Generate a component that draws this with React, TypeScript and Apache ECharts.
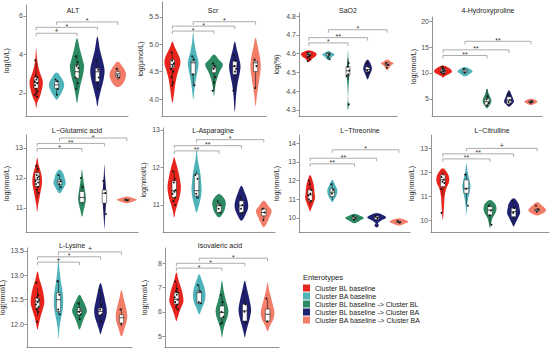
import React, { useEffect, useRef } from "react";
import * as echarts from "echarts";

// ---------- categories / legend ----------
const GROUPS = [
  "Cluster BL baseline",
  "Cluster BA baseline",
  "Cluster BL baseline -> Cluster BL",
  "Cluster BL baseline -> Cluster BA",
  "Cluster BA baseline -> Cluster BA",
];
const LEGEND_TITLE = "Enterotypes";
const COLORS = ["#E8241C", "#4FB4BA", "#2B8A61", "#1F2170", "#F27E6A"];

// ---------- panel titles / axes ----------
const TITLES = [
  "ALT", "Scr", "SaO2", "4-Hydroxyproline",
  "L\u2212Glutamic acid", "L-Asparagine", "L\u2212Threonine", "L\u2212Citrulline",
  "L-Lysine", "Isovaleric acid",
];
const UNITS = [
  "log(U/L)", "log(\u03bcmol/L)", "log(%)", "log(nmol/L)",
  "log(nmol/L)", "log(nmol/L)", "log(nmol/L)", "log(nmol/L)",
  "log(nmol/L)", "log(nmol/L)",
];
const Y_TICKS = [
  [2, 4, 6], [4.0, 4.5, 5.0, 5.5], [4.3, 4.4, 4.5, 4.6, 4.7, 4.8], [5, 10, 15, 20],
  [11, 12, 13], [11, 12, 13], [10, 11, 12, 13, 14], [10, 11, 12, 13],
  [12.0, 12.5, 13.0, 13.5], [5, 6, 7, 8],
];
const Y_DECIMALS = [0, 1, 1, 0, 0, 0, 0, 0, 1, 0];
const Y_RANGES = [
  [0.8, 6.57], [3.69, 5.77], [4.268, 4.816], [1.73, 20.77],
  [10.2, 13.43], [10.28, 13.05], [9.25, 14.43], [9.5, 13.56],
  [11.53, 13.56], [4.55, 8.63],
];

// ---------- violin density profiles: [value, relative width] ----------
const altViolin = [
  [[1.2, 0], [1.5, 0.1], [1.72, 0.3], [2.16, 0.55], [2.59, 0.65], [3.0, 0.4], [3.37, 0.2], [3.8, 0.08], [4.32, 0]],
  [[1.64, 0], [1.8, 0.25], [2.07, 0.55], [2.42, 0.75], [2.76, 0.5], [3.06, 0]],
  [[1.46, 0], [1.81, 0.12], [2.33, 0.3], [2.85, 0.55], [3.37, 0.7], [3.63, 0.6], [4.23, 0.3], [4.84, 0]],
  [[1.29, 0], [1.64, 0.12], [2.16, 0.35], [2.68, 0.6], [3.19, 0.7], [3.71, 0.5], [4.23, 0.25], [4.93, 0]],
  [[2.29, 0], [2.42, 0.4], [2.68, 0.7], [3.02, 0.8], [3.37, 0.45], [3.63, 0]],
];
const scrViolin = [
  [[3.93, 0], [3.99, 0.08], [4.17, 0.2], [4.35, 0.35], [4.5, 0.55], [4.63, 0.75], [4.72, 0.75], [4.84, 0.5], [4.96, 0.2], [5.05, 0]],
  [[3.99, 0], [4.11, 0.08], [4.29, 0.2], [4.45, 0.35], [4.6, 0.5], [4.69, 0.5], [4.84, 0.3], [5.02, 0.12], [5.21, 0]],
  [[4.05, 0], [4.23, 0.12], [4.38, 0.3], [4.5, 0.55], [4.63, 0.85], [4.72, 0.45], [4.81, 0]],
  [[3.77, 0], [4.05, 0.12], [4.26, 0.25], [4.45, 0.45], [4.6, 0.55], [4.75, 0.4], [4.9, 0.2], [5.05, 0]],
  [[3.87, 0], [4.05, 0.12], [4.23, 0.25], [4.41, 0.4], [4.6, 0.5], [4.78, 0.4], [4.96, 0.2], [5.12, 0]],
];
const sao2Violin = [
  [[4.556, 0], [4.573, 0.35], [4.586, 0.7], [4.6, 0.8], [4.609, 0.55], [4.618, 0]],
  [[4.565, 0], [4.582, 0.35], [4.595, 0.65], [4.6, 0.5], [4.614, 0]],
  [[4.3, 0], [4.33, 0.08], [4.35, 0.02], [4.4, 0.03], [4.46, 0.1], [4.5, 0.15], [4.53, 0.12], [4.573, 0.05], [4.618, 0]],
  [[4.462, 0], [4.485, 0.2], [4.503, 0.35], [4.52, 0.45], [4.547, 0.3], [4.568, 0]],
  [[4.512, 0], [4.535, 0.35], [4.547, 0.65], [4.556, 0.4], [4.568, 0]],
];
const hypViolin = [
  [[9.11, 0], [9.36, 0.15], [9.75, 0.5], [10.19, 0.8], [10.64, 0.75], [11.14, 0.4], [11.46, 0]],
  [[9.36, 0], [9.87, 0.45], [10.32, 0.7], [10.83, 0.4], [11.14, 0]],
  [[3.2, 0], [3.83, 0.25], [4.47, 0.4], [5.1, 0.35], [6.06, 0.15], [7.01, 0]],
  [[3.51, 0], [4.02, 0.3], [4.47, 0.45], [4.91, 0.4], [5.74, 0.25], [6.69, 0]],
  [[3.83, 0], [4.15, 0.4], [4.47, 0.6], [4.79, 0.4], [5.1, 0]],
];
const gluViolin = [
  [[10.88, 0], [11.1, 0.08], [11.33, 0.2], [11.55, 0.3], [11.78, 0.42], [12.0, 0.42], [12.22, 0.3], [12.45, 0.12], [12.67, 0]],
  [[11.49, 0], [11.66, 0.35], [11.83, 0.55], [12.0, 0.45], [12.17, 0.3], [12.28, 0]],
  [[10.71, 0], [10.93, 0.15], [11.16, 0.3], [11.33, 0.35], [11.49, 0.3], [11.78, 0.18], [12.06, 0.08], [12.28, 0]],
  [[10.31, 0], [10.6, 0.05], [10.88, 0.1], [11.21, 0.15], [11.49, 0.15], [11.78, 0.12], [12.11, 0.05], [12.45, 0]],
  [[11.16, 0], [11.21, 0.5], [11.27, 0.9], [11.33, 0.5], [11.38, 0]],
];
const asnViolin = [
  [[10.67, 0], [10.84, 0.12], [11.07, 0.35], [11.24, 0.5], [11.47, 0.6], [11.69, 0.5], [11.91, 0.35], [12.13, 0.15], [12.27, 0]],
  [[10.8, 0], [10.98, 0.2], [11.16, 0.35], [11.38, 0.45], [11.64, 0.4], [11.91, 0.3], [12.22, 0.1], [12.49, 0]],
  [[10.67, 0], [10.8, 0.4], [10.93, 0.55], [11.07, 0.6], [11.2, 0.4], [11.29, 0]],
  [[10.58, 0], [10.76, 0.4], [10.93, 0.6], [11.11, 0.55], [11.33, 0.3], [11.51, 0]],
  [[10.4, 0], [10.53, 0.3], [10.67, 0.5], [10.84, 0.7], [10.98, 0.4], [11.11, 0]],
];
const thrViolin = [
  [[10.35, 0], [10.52, 0.12], [10.79, 0.3], [11.06, 0.45], [11.32, 0.4], [11.68, 0.35], [12.04, 0.2], [12.3, 0]],
  [[10.84, 0], [10.97, 0.15], [11.24, 0.4], [11.5, 0.45], [11.77, 0.25], [12.04, 0]],
  [[9.72, 0], [9.87, 0.5], [10.0, 0.85], [10.12, 0.5], [10.22, 0]],
  [[9.49, 0], [9.6, 0.2], [9.72, 0.1], [9.88, 0.45], [10.03, 0.85], [10.17, 0.5], [10.26, 0]],
  [[9.6, 0], [9.67, 0.4], [9.78, 0.85], [9.9, 0.55], [9.99, 0]],
];
const citViolin = [
  [[10.0, 0], [10.21, 0.05], [10.56, 0.1], [10.98, 0.15], [11.33, 0.3], [11.54, 0.5], [11.75, 0.55], [11.96, 0.4], [12.17, 0]],
  [[10.21, 0], [10.49, 0.05], [10.77, 0.1], [11.12, 0.25], [11.4, 0.35], [11.68, 0.25], [12.03, 0.1], [12.38, 0]],
  [[9.66, 0], [9.87, 0.1], [10.07, 0.2], [10.28, 0.45], [10.49, 0.55], [10.7, 0.4], [10.84, 0]],
  [[9.73, 0], [9.87, 0.15], [10.07, 0.35], [10.28, 0.55], [10.49, 0.5], [10.7, 0.4], [10.91, 0]],
  [[10.19, 0], [10.28, 0.5], [10.42, 0.75], [10.61, 0.4], [10.74, 0]],
];
const lysViolin = [
  [[11.89, 0], [12.02, 0.15], [12.16, 0.3], [12.3, 0.5], [12.43, 0.65], [12.57, 0.6], [12.74, 0.45], [12.91, 0.2], [13.08, 0]],
  [[11.69, 0], [11.82, 0.05], [12.02, 0.15], [12.23, 0.35], [12.43, 0.45], [12.64, 0.4], [12.84, 0.25], [13.11, 0.1], [13.35, 0]],
  [[11.89, 0], [12.02, 0.25], [12.16, 0.5], [12.26, 0.7], [12.36, 0.6], [12.5, 0.3], [12.6, 0]],
  [[11.79, 0], [11.89, 0.15], [12.02, 0.35], [12.16, 0.55], [12.3, 0.6], [12.47, 0.45], [12.67, 0.25], [12.84, 0]],
  [[11.75, 0], [11.92, 0.3], [12.06, 0.5], [12.19, 0.55], [12.36, 0.4], [12.53, 0.2], [12.7, 0]],
];
const isoViolin = [
  [[5.62, 0], [5.83, 0.15], [6.11, 0.35], [6.38, 0.6], [6.59, 0.6], [6.93, 0.45], [7.28, 0.2], [7.62, 0]],
  [[5.9, 0], [6.11, 0.2], [6.38, 0.45], [6.66, 0.55], [7.0, 0.45], [7.28, 0.25], [7.55, 0]],
  [[4.94, 0], [5.21, 0.1], [5.49, 0.25], [5.83, 0.5], [6.11, 0.55], [6.45, 0.35], [6.86, 0.15], [7.28, 0]],
  [[4.94, 0], [5.14, 0.1], [5.42, 0.25], [5.76, 0.45], [6.11, 0.55], [6.52, 0.4], [6.93, 0.2], [7.28, 0]],
  [[5.21, 0], [5.42, 0.2], [5.69, 0.5], [5.97, 0.6], [6.31, 0.45], [6.59, 0.3], [6.86, 0.15], [7.21, 0]],
];

// ---------- box stats: [min, q1, median, q3, max] ----------
const altBox = [[1.8, 2.24, 2.54, 2.81, 3.7], [1.9, 2.24, 2.42, 2.59, 2.68], [2.24, 2.76, 3.1, 3.45, 3.97], [2.24, 2.59, 3.1, 3.28, 3.7], [2.68, 2.81, 2.99, 3.1, 3.28]];
const scrBox = [[4.26, 4.57, 4.63, 4.72, 4.87], [4.23, 4.45, 4.66, 4.69, 4.78], [4.14, 4.48, 4.57, 4.6, 4.66], [4.14, 4.45, 4.6, 4.69, 4.81], [4.2, 4.5, 4.66, 4.69, 4.72]];
const sao2Box = [[4.579, 4.588, 4.596, 4.604, 4.609], [4.58, 4.591, 4.6, 4.604, 4.607], [4.46, 4.485, 4.508, 4.53, 4.573], [4.475, 4.503, 4.515, 4.53, 4.556], [4.534, 4.537, 4.541, 4.549, 4.552]];
const hypBox = [[9.55, 10.0, 10.38, 10.83, 11.46], [9.9, 10.13, 10.38, 10.64, 10.9], [3.51, 3.83, 4.47, 5.1, 6.88], [3.64, 4.02, 4.79, 5.42, 6.5], [4.15, 4.3, 4.47, 4.65, 4.79]];
const gluBox = [[11.33, 11.72, 11.94, 12.17, 12.45], [11.6, 11.78, 11.87, 11.94, 12.11], [11.1, 11.19, 11.35, 11.55, 11.78], [10.88, 11.16, 11.49, 11.6, 12.0], [11.24, 11.25, 11.27, 11.29, 11.3]];
const asnBox = [[11.07, 11.2, 11.38, 11.64, 11.91], [11.16, 11.24, 11.38, 11.82, 11.91], [10.76, 10.8, 10.98, 11.02, 11.07], [10.71, 10.8, 10.98, 11.11, 11.24], [10.62, 10.71, 10.8, 10.89, 10.93]];
const thrBox = [[10.7, 10.92, 11.24, 11.5, 11.95], [10.97, 11.15, 11.38, 11.56, 11.86], [9.9, 9.92, 10.0, 10.08, 10.1], [9.9, 9.93, 10.03, 10.1, 10.12], [9.74, 9.76, 9.78, 9.82, 9.84]];
const citBox = [[11.02, 11.4, 11.68, 11.89, 12.03], [10.63, 11.12, 11.33, 11.68, 11.96], [9.8, 10.21, 10.42, 10.56, 10.7], [9.8, 10.14, 10.35, 10.49, 10.7], [10.36, 10.38, 10.42, 10.45, 10.5]];
const lysBox = [[12.16, 12.33, 12.47, 12.53, 12.74], [12.19, 12.26, 12.5, 12.64, 12.91], [12.09, 12.19, 12.26, 12.33, 12.47], [12.02, 12.19, 12.26, 12.33, 12.67], [11.95, 12.02, 12.13, 12.19, 12.33]];
const isoBox = [[6.11, 6.31, 6.52, 6.79, 7.21], [6.31, 6.35, 6.79, 6.85, 7.07], [5.49, 5.76, 5.97, 6.24, 6.66], [5.49, 5.62, 6.04, 6.31, 6.66], [5.6, 5.62, 5.9, 6.11, 6.52]];

// ---------- individual observations ----------
const altPts = [[3.7, 3.0, 2.9, 2.8, 2.7, 2.6, 2.5, 2.4, 2.3, 2.2, 2.1, 2.0, 1.9, 1.8], [2.7, 2.6, 2.3, 2.2, 1.9], [3.9, 3.6, 3.4, 3.3, 3.0, 2.8, 2.5, 2.2], [3.7, 3.2, 3.0, 2.8, 2.5, 2.3, 2.2], [3.25, 3.0, 2.9, 2.8]];
const scrPts = [[4.85, 4.75, 4.7, 4.65, 4.6, 4.55, 4.5, 4.4, 4.3, 4.25], [4.78, 4.72, 4.45, 4.25], [4.65, 4.6, 4.55, 4.4, 4.3, 4.15], [4.8, 4.7, 4.6, 4.55, 4.5, 4.15], [4.72, 4.6, 4.2]];
const sao2Pts = [[4.605, 4.6, 4.595, 4.59, 4.585, 4.58, 4.57, 4.56], [4.6, 4.595, 4.58, 4.57], [4.575, 4.55, 4.53, 4.51, 4.49, 4.48, 4.33], [4.55, 4.53, 4.51, 4.5, 4.47], [4.55, 4.54, 4.525]];
const hypPts = [[11.2, 10.9, 10.7, 10.5, 10.3, 10.1, 9.9], [10.8, 10.4, 10.1], [6.6, 5.5, 4.9, 4.2, 3.8], [5.9, 4.8, 4.4, 4.1], [4.7, 4.5, 4.3]];
const gluPts = [[12.4, 12.3, 12.1, 12.05, 12.0, 11.9, 11.85, 11.8, 11.7, 11.6, 11.5, 11.3], [12.1, 11.9, 11.8, 11.7], [12.0, 11.7, 11.4, 11.3, 11.2], [11.9, 11.5, 11.0, 10.8], [11.27, 11.25]];
const asnPts = [[11.9, 11.7, 11.6, 11.4, 11.35, 11.3, 11.2, 11.1, 11.0], [11.8, 11.7, 11.3, 11.2], [11.1, 11.0, 10.9, 10.8], [11.2, 11.0, 10.9, 10.8, 10.7], [10.9, 10.8, 10.6]];
const thrPts = [[12.0, 11.9, 11.8, 11.5, 11.3, 11.2, 11.1, 11.0, 10.9], [11.8, 11.5, 11.3, 11.1], [10.1, 10.0, 9.9], [10.1, 10.0, 9.6], [9.85, 9.75]];
const citPts = [[11.8, 11.7, 11.6, 11.55, 11.5, 11.3, 10.7, 10.3], [11.9, 11.5, 11.3, 10.6], [10.6, 10.4, 10.2, 9.8], [10.8, 10.5, 10.3, 9.9], [10.6, 10.45, 10.35]];
const lysPts = [[12.85, 12.6, 12.55, 12.5, 12.45, 12.4, 12.35, 12.3, 12.25, 12.05], [12.88, 12.6, 12.3, 12.2], [12.42, 12.3, 12.25, 12.2, 12.1], [12.7, 12.4, 12.3, 12.2, 12.05], [12.3, 12.15, 12.0]];
const isoPts = [[7.25, 6.95, 6.85, 6.8, 6.7, 6.6, 6.5, 6.4, 6.3, 6.2, 6.1], [7.1, 6.85, 6.4, 6.35], [6.7, 6.4, 6.0, 5.8, 5.55, 5.5], [6.8, 6.3, 6.0, 5.55], [6.55, 5.9, 5.6]];

// ---------- significance brackets: [from group, to group, level, label] ----------
const altSig = [[0, 2, 5.1, "+"], [0, 3, 5.41, "*"], [1, 4, 5.69, "*"]];
const scrSig = [[0, 2, 5.24, "*"], [0, 3, 5.33, "*"], [1, 4, 5.41, "*"]];
const sao2Sig = [[0, 2, 4.657, "*"], [0, 3, 4.685, "**"], [1, 4, 4.727, "*"]];
const hypSig = [[0, 2, 13.37, "**"], [0, 3, 14.45, "**"], [1, 4, 16.1, "**"]];
const gluSig = [[0, 2, 12.98, "*"], [0, 3, 13.15, "**"], [1, 4, 13.33, "*"]];
const asnSig = [[0, 2, 12.44, "**"], [0, 3, 12.58, "**"], [1, 4, 12.74, "*"]];
const thrSig = [[0, 2, 12.89, "**"], [0, 3, 13.19, "**"], [1, 4, 13.64, "*"]];
const citSig = [[0, 2, 12.56, "**"], [0, 3, 12.77, "**"], [1, 4, 13.0, "+"]];
const lysSig = [[0, 2, 13.27, "+"], [0, 3, 13.38, "*"], [1, 4, 13.48, "+"]];
const isoSig = [[0, 2, 7.8, "*"], [0, 3, 8.0, "*"], [1, 4, 8.21, "*"]];

const VIOLINS = [altViolin, scrViolin, sao2Violin, hypViolin, gluViolin, asnViolin, thrViolin, citViolin, lysViolin, isoViolin];
const BOXES = [altBox, scrBox, sao2Box, hypBox, gluBox, asnBox, thrBox, citBox, lysBox, isoBox];
const POINTS = [altPts, scrPts, sao2Pts, hypPts, gluPts, asnPts, thrPts, citPts, lysPts, isoPts];
const SIGS: any[][] = [altSig, scrSig, sao2Sig, hypSig, gluSig, asnSig, thrSig, citSig, lysSig, isoSig];

// ---------- layout (pixels) ----------
const GRID_RECTS = [
  [26, 5, 102, 111], [162, 2, 104, 114], [299, 13, 98, 103], [432, 17, 110, 99],
  [26, 135, 112, 97], [163, 128, 112, 104], [299, 135, 111, 97], [431, 135, 118, 97],
  [27, 248, 105, 99], [165, 248, 114, 99],
];
const TITLE_POS = [
  [73, 10], [213, 10], [348, 10], [488, 10],
  [77, 130], [213, 130], [360, 130], [492, 130],
  [72, 245], [220, 245],
];
const NAME_GAP = [16, 18, 19, 15, 16, 16, 19, 16, 20, 17];
const JITTER = [-1.2, 0.8, -0.4, 1.4, 0.2, -1.6, 1.0];
const FONT = "'Liberation Sans', Arial, Helvetica, sans-serif";
const AXIS_COLOR = "#4a4a4a";

function violinRenderer(p: number, g: number) {
  return (_params: any, api: any) => {
    const bw = api.size([1, 0])[0];
    const half = bw / 2;
    const prof = VIOLINS[p][g];
    const py = (v: number) => api.coord([g, v])[1];
    const cx = api.coord([g, prof[0][0]])[0];
    const right = prof.map(([y, w]) => [cx + w * half, py(y)]);
    const left = prof.slice(1, -1).reverse().map(([y, w]) => [cx - w * half, py(y)]);
    const [mn, q1, md, q3, mx] = BOXES[p][g];
    const boxW = bw * 0.2;
    const children: any[] = [
      { type: "polygon", shape: { points: right.concat(left), smooth: 0.35 }, style: { fill: COLORS[g] } },
      { type: "line", shape: { x1: cx, y1: py(mn), x2: cx, y2: py(mx) }, style: { stroke: "#1a1a1a", lineWidth: 0.6 } },
      { type: "rect", shape: { x: cx - boxW / 2, y: py(q3), width: boxW, height: Math.max(py(q1) - py(q3), 1) }, style: { fill: "#ffffff", stroke: "#1a1a1a", lineWidth: 0.5 } },
      { type: "line", shape: { x1: cx - boxW / 2, y1: py(md), x2: cx + boxW / 2, y2: py(md) }, style: { stroke: "#1a1a1a", lineWidth: 0.8 } },
    ];
    POINTS[p][g].forEach((v, k) => {
      children.push({
        type: "circle",
        shape: { cx: cx + (JITTER[k % JITTER.length] * bw) / 22, cy: py(v), r: 0.9 },
        style: { fill: "#111111" },
      });
    });
    return { type: "group", children };
  };
}

function bracketRenderer(p: number) {
  return (params: any, api: any) => {
    const [a, b, lvl, label] = SIGS[p][params.dataIndex];
    const x1 = api.coord([a, lvl])[0];
    const x2 = api.coord([b, lvl])[0];
    const y = api.coord([a, lvl])[1];
    const isPlus = String(label).indexOf("+") >= 0;
    return {
      type: "group",
      children: [
        {
          type: "polyline",
          shape: { points: [[x1, y + 3], [x1, y], [x2, y], [x2, y + 3]] },
          style: { stroke: "#8a8a8a", lineWidth: 0.7, fill: "none" },
        },
        {
          type: "text",
          style: {
            text: label,
            x: (x1 + x2) / 2,
            y: isPlus ? y - 3 : y - 1,
            align: "center",
            verticalAlign: "middle",
            fontSize: 7,
            fontFamily: FONT,
            fill: "#333333",
          },
        },
      ],
    };
  };
}

export default function App() {
  const ref = useRef<HTMLDivElement>(null);
  useEffect(() => {
    if (!ref.current) return;
    const chart = echarts.init(ref.current, null, { renderer: "svg" });
    const n = TITLES.length;
    const grids = GRID_RECTS.map(([l, t, w, h]) => ({ left: l, top: t, width: w, height: h, containLabel: false, outerBoundsMode: "none" }));
    const xAxes = TITLES.map((_, i) => ({
      type: "category",
      gridIndex: i,
      data: GROUPS,
      boundaryGap: true,
      axisLabel: { show: false },
      axisTick: { alignWithLabel: true, length: 2.5, lineStyle: { color: AXIS_COLOR, width: 0.6 } },
      axisLine: { lineStyle: { color: AXIS_COLOR, width: 0.6 } },
      splitLine: { show: false },
    }));
    const yAxes = TITLES.map((_, i) => ({
      type: "value",
      gridIndex: i,
      min: Y_RANGES[i][0],
      max: Y_RANGES[i][1],
      name: UNITS[i],
      nameLocation: "middle",
      nameGap: NAME_GAP[i],
      nameRotate: 90,
      nameTextStyle: { fontSize: 7, color: "#222222", fontFamily: FONT },
      axisLine: { show: true, lineStyle: { color: AXIS_COLOR, width: 0.6 } },
      axisTick: { show: true, customValues: Y_TICKS[i], length: 2.5, lineStyle: { color: AXIS_COLOR, width: 0.6 } },
      axisLabel: {
        customValues: Y_TICKS[i],
        formatter: (v: number) => Number(v).toFixed(Y_DECIMALS[i]),
        fontSize: 7,
        color: "#4d4d4d",
        margin: 3,
        fontFamily: FONT,
      },
      splitLine: { show: false },
    }));
    const series: any[] = [];
    for (let p = 0; p < n; p++) {
      for (let g = 0; g < GROUPS.length; g++) {
        series.push({
          type: "custom",
          name: GROUPS[g],
          xAxisIndex: p,
          yAxisIndex: p,
          data: [[g, BOXES[p][g][2]]],
          itemStyle: { color: COLORS[g] },
          renderItem: violinRenderer(p, g),
          silent: true,
          clip: false,
        });
      }
      series.push({
        type: "custom",
        name: "sig-" + p,
        xAxisIndex: p,
        yAxisIndex: p,
        data: SIGS[p].map((s) => [s[0], s[2]]),
        renderItem: bracketRenderer(p),
        silent: true,
        clip: false,
      });
    }
    const titles = TITLES.map((t, i) => ({
      type: "text",
      x: TITLE_POS[i][0],
      y: TITLE_POS[i][1],
      style: { text: t, align: "center", verticalAlign: "middle", fontSize: 7, fontFamily: FONT, fill: "#1a1a1a" },
    }));
    chart.setOption({
      animation: false,
      color: COLORS,
      textStyle: { fontFamily: FONT },
      grid: grids,
      xAxis: xAxes,
      yAxis: yAxes,
      series,
      legend: {
        data: GROUPS,
        orient: "vertical",
        left: 303,
        top: 284.5,
        padding: 0,
        itemWidth: 7,
        itemHeight: 7,
        itemGap: 1,
        icon: "rect",
        selectedMode: false,
        textStyle: { fontSize: 7, lineHeight: 7, color: "#222222", fontFamily: FONT },
      },
      graphic: [
        ...titles,
        {
          type: "text",
          x: 303,
          y: 277,
          style: { text: LEGEND_TITLE, align: "left", verticalAlign: "middle", fontSize: 7.5, fontFamily: FONT, fill: "#1a1a1a" },
        },
      ],
    });
    return () => chart.dispose();
  }, []);
  return <div ref={ref} style={{ position: "absolute", left: 0, top: 0, width: 555, height: 350 }} />;
}
